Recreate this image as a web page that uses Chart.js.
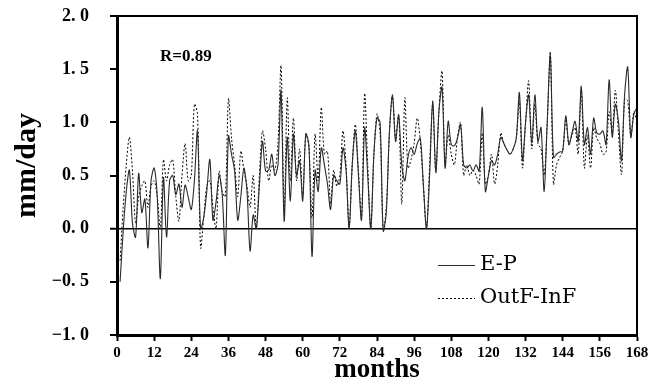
<!DOCTYPE html>
<html>
<head>
<meta charset="utf-8">
<script src="https://cdn.jsdelivr.net/npm/chart.js@4"></script>
<style>
  body { margin: 0; background: #fff; }
  #wrap { width: 650px; height: 390px; }
</style>
</head>
<body>
<div id="wrap"><canvas id="chart" width="650" height="390"></canvas></div>
<script>
// months 1..168
const months = Array.from({ length: 168 }, (_, i) => i + 1);

const ePValues = [
    -0.50, -0.02, 0.35, 0.55, 0.05, -0.08, 0.52, 0.15, 0.28, -0.18, 0.45, 0.57,
    0.30, -0.47, 0.48, -0.08, 0.45, 0.50, 0.32, 0.42, 0.20, 0.41, 0.30, 0.18,
    0.45, 0.92, 0.00, 0.10, 0.35, 0.65, 0.08, 0.25, 0.50, 0.32, -0.25, 0.87,
    0.70, 0.54, 0.08, 0.30, 0.57, 0.35, -0.21, 0.13, 0.00, 0.40, 0.82, 0.54,
    0.55, 0.70, 0.50, 0.60, 1.30, 0.07, 0.86, 0.26, 0.89, 0.50, 0.64, 0.26,
    0.89, 0.79, -0.26, 0.55, 0.35, 0.76, 0.60, 0.42, 0.18, 0.50, 0.45, 0.42,
    0.76, 0.55, 0.00, 0.60, 0.92, 0.50, 0.08, 0.95, 0.50, 0.00, 0.70, 1.04,
    1.00, -0.02, 0.15, 0.90, 1.25, 0.82, 1.07, 0.60, 0.45, 0.67, 0.76, 0.70,
    0.80, 0.85, 0.40, 0.00, 0.50, 1.20, 0.54, 1.10, 1.33, 0.57, 1.01, 0.79,
    0.78, 0.85, 0.98, 0.60, 0.57, 0.60, 0.54, 0.60, 0.54, 1.14, 0.35, 0.50,
    0.64, 0.60, 0.70, 0.86, 0.80, 0.74, 0.70, 0.75, 0.85, 1.28, 0.64, 1.00,
    1.26, 0.80, 1.26, 0.82, 0.95, 0.35, 1.00, 1.63, 0.67, 0.70, 0.72, 0.73,
    1.06, 0.79, 0.90, 1.01, 0.82, 1.34, 0.79, 0.95, 0.70, 1.04, 0.90, 0.89,
    0.92, 0.79, 1.40, 0.86, 1.17, 1.01, 0.64, 1.26, 1.52, 0.86, 1.08, 1.14
];

const outfInfValues = [
    -0.30, 0.20, 0.60, 0.86, 0.54, 0.05, 0.30, 0.40, 0.45, 0.20, 0.40, 0.45,
    0.30, 0.00, 0.65, 0.45, 0.60, 0.65, 0.30, 0.07, 0.50, 0.80, 0.45, 0.50,
    1.17, 1.08, -0.18, 0.10, 0.40, 0.45, 0.20, 0.00, 0.54, 0.35, 0.30, 1.22,
    0.85, 0.60, 0.30, 0.73, 0.55, 0.40, 0.20, 0.50, 0.00, 0.50, 0.92, 0.75,
    0.45, 0.60, 0.55, 0.80, 1.53, 0.15, 1.23, 0.45, 1.04, 0.45, 0.75, 0.30,
    0.89, 0.76, 0.10, 0.89, 0.45, 1.14, 0.70, 0.73, 0.23, 0.55, 0.40, 0.50,
    0.92, 0.60, 0.01, 0.60, 0.98, 0.55, 0.10, 1.27, 0.60, 0.00, 0.70, 1.08,
    0.90, -0.02, 0.20, 0.90, 1.26, 0.85, 1.07, 0.23, 1.23, 0.57, 0.65, 0.80,
    1.04, 0.82, 0.40, 0.00, 0.60, 1.17, 0.52, 1.10, 1.48, 0.60, 0.88, 0.70,
    0.60, 0.86, 1.00, 0.50, 0.60, 0.50, 0.55, 0.50, 0.42, 0.90, 0.42, 0.50,
    0.70, 0.42, 0.60, 0.90, 0.80, 0.74, 0.70, 0.75, 0.85, 1.20, 0.57, 1.00,
    1.39, 0.75, 1.17, 0.80, 0.75, 0.50, 1.00, 1.66, 0.42, 0.60, 0.67, 0.73,
    1.03, 0.79, 0.88, 0.95, 0.70, 1.30, 0.57, 0.88, 0.57, 0.95, 0.85, 0.80,
    0.70, 0.72, 1.10, 0.90, 1.30, 0.90, 0.51, 1.22, 1.20, 0.86, 1.10, 1.00
];

const xTicks = [0, 12, 24, 36, 48, 60, 72, 84, 96, 108, 120, 132, 144, 156, 168];
const yTicks = [-1.0, -0.5, 0.0, 0.5, 1.0, 1.5, 2.0];
const yTickLabels = ['\u22121. 0', '\u22120. 5', '0. 0', '0. 5', '1. 0', '1. 5', '2. 0'];
const seriesNames = ['E-P', 'OutF-InF'];
const yTitle = 'mm/day';
const rText = 'R=0.89';

const toPoints = vals => vals.map((v, i) => ({ x: months[i], y: v }));

// frame, y title, R label and legend inside the plot
const extras = {
    id: 'extras',
    afterDraw(chart) {
        const { ctx, chartArea: a } = chart;
        ctx.save();
        ctx.strokeStyle = '#000';
        ctx.lineWidth = 2;
        ctx.beginPath();
        ctx.moveTo(a.left - 3, a.top);
        ctx.lineTo(a.right, a.top);
        ctx.lineTo(a.right, a.bottom);
        ctx.stroke();

        ctx.fillStyle = '#000';
        ctx.save();
        ctx.translate(27, (a.top + a.bottom) / 2 - 10);
        ctx.rotate(-Math.PI / 2);
        ctx.font = 'bold 30px "Liberation Serif"';
        ctx.textAlign = 'center';
        ctx.textBaseline = 'middle';
        ctx.fillText(yTitle, 0, 0);
        ctx.restore();

        ctx.font = 'bold 17px "Liberation Serif"';
        ctx.textBaseline = 'alphabetic';
        ctx.textAlign = 'left';
        ctx.fillText(rText, a.left + 43, a.top + 45);

        // legend
        const lx = a.right - 199, ly = a.top + 249;
        chart.data.datasets.forEach((ds, i) => {
            const y = ly + i * 33;
            ctx.strokeStyle = ds.borderColor;
            ctx.lineWidth = 1;
            ctx.setLineDash(ds.borderDash || []);
            ctx.beginPath();
            ctx.moveTo(lx, y + 0.5);
            ctx.lineTo(lx + 37, y + 0.5);
            ctx.stroke();
            ctx.setLineDash([]);
            ctx.font = '21px "DejaVu Serif"';
            ctx.textBaseline = 'middle';
            ctx.fillText(ds.label, lx + 42, y);
        });
        ctx.restore();
    }
};

new Chart(document.getElementById('chart').getContext('2d'), {
    type: 'line',
    data: {
        datasets: [{
            label: seriesNames[0],
            data: toPoints(ePValues),
            borderColor: '#2a2a2a',
            borderWidth: 1.1,
            pointRadius: 0,
            tension: 0.3,
            fill: false
        }, {
            label: seriesNames[1],
            data: toPoints(outfInfValues),
            borderColor: '#000',
            borderWidth: 1,
            borderDash: [2, 2],
            pointRadius: 0,
            tension: 0.3,
            fill: false
        }]
    },
    options: {
        responsive: false,
        animation: false,
        devicePixelRatio: 1,
        layout: { autoPadding: false, padding: { top: 16, right: 13, left: 0, bottom: 0 } },
        plugins: {
            legend: { display: false },
            tooltip: { enabled: false }
        },
        scales: {
            x: {
                type: 'linear',
                min: 0,
                max: 168,
                afterBuildTicks: s => { s.ticks = xTicks.map(v => ({ value: v })); },
                afterFit: s => { s.height = 55; s.paddingLeft = 0; s.paddingRight = 0; },
                border: { color: '#000', width: 3 },
                grid: { drawOnChartArea: false, tickLength: 6, tickColor: '#000', tickWidth: 2 },
                ticks: {
                    color: '#000',
                    padding: 3,
                    maxRotation: 0,
                    font: { family: 'Liberation Serif', size: 15, weight: 'bold' }
                },
                title: {
                    display: true,
                    text: 'months',
                    color: '#000',
                    padding: { top: 0, bottom: 6 },
                    font: { family: 'Liberation Serif', size: 27, weight: 'bold', lineHeight: 1 }
                }
            },
            y: {
                min: -1,
                max: 2,
                afterBuildTicks: s => { s.ticks = yTicks.map(v => ({ value: v })); },
                afterFit: s => { s.width = 117; s.paddingTop = 0; s.paddingBottom = 0; },
                border: { color: '#000', width: 3 },
                grid: {
                    color: c => (c.tick && c.tick.value === 0 ? '#000' : 'rgba(0,0,0,0)'),
                    lineWidth: c => (c.tick && c.tick.value === 0 ? 1.5 : 0),
                    tickLength: 7,
                    tickColor: '#000',
                    tickWidth: 2
                },
                ticks: {
                    color: '#000',
                    padding: 21,
                    callback: (v, i) => yTickLabels[i],
                    font: { family: 'Liberation Serif', size: 18, weight: 'bold' }
                },
                title: { display: false }
            }
        }
    },
    plugins: [extras]
});
</script>
</body>
</html>
